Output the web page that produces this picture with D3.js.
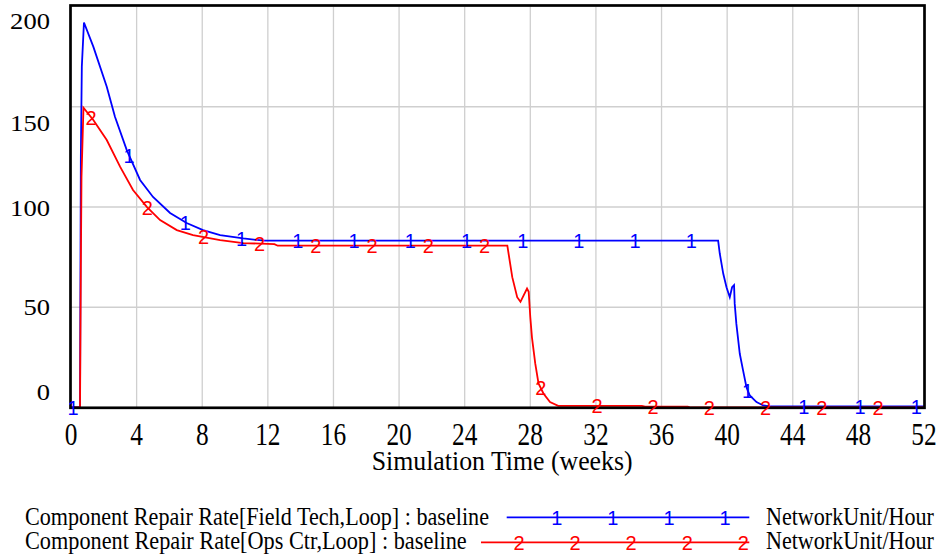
<!DOCTYPE html>
<html>
<head>
<meta charset="utf-8">
<script src="https://cdn.jsdelivr.net/npm/d3@7"></script>
<style>
  html, body { margin: 0; padding: 0; background: #fff; }
  svg { display: block; }
</style>
</head>
<body>
<svg id="chart" width="941" height="560"></svg>
<script>
// ---------------- DATA ----------------
const xTicks = [0, 4, 8, 12, 16, 20, 24, 28, 32, 36, 40, 44, 48, 52];
const yTicks = [0, 50, 100, 150, 200];

// Series 1: Component Repair Rate[Field Tech,Loop] : baseline
const fieldTechT = [0, 0.55, 0.6, 0.66, 0.79, 1.36, 2.18, 2.68, 3.40, 4.21, 5.0, 6.04, 7.05, 8.05, 9.09, 10.5, 11.8,
  39.45, 39.55, 39.76, 39.96, 40.16, 40.3, 40.42, 40.46, 40.56, 40.77, 40.97, 41.18, 41.38, 41.79, 42.2, 42.6, 52];
const fieldTechV = [0, 0, 125, 170, 192, 180, 160, 145, 128.4, 113.5, 105, 97, 92, 88.5, 86, 84.3, 83.2,
  83.2, 76.8, 66.8, 60, 55, 60, 61, 51.8, 41.8, 26.8, 18.5, 10, 6, 2.7, 1, 0.5, 0.5];

// Series 2: Component Repair Rate[Ops Ctr,Loop] : baseline
const opsCtrT = [0, 0.55, 0.6, 0.64, 0.76, 1.36, 2.18, 2.99, 3.78, 4.62, 5.43, 6.45, 7.44, 9.09, 10.5, 12.4, 12.6,
  26.6, 26.9, 27.2, 27.4, 27.8, 27.9, 28.0, 28.1, 28.3, 28.5, 28.8, 29.2, 29.7, 34.8, 35.0, 37.6, 37.8, 52];
const opsCtrV = [0, 0, 70, 115, 149.5, 143.4, 133.4, 120.1, 108.5, 100.1, 93.5, 88.5, 86, 83.5, 82, 81.5, 80.7,
  80.7, 65, 55, 52.7, 59.3, 57.7, 45, 35, 22, 12, 7, 2.7, 0.8, 0.8, 0.4, 0.4, 0, 0];

const legendLabels = ["Component Repair Rate[Field Tech,Loop] : baseline", "Component Repair Rate[Ops Ctr,Loop] : baseline"];
const unitLabel = "NetworkUnit/Hour";
const axisTitle = "Simulation Time (weeks)";

// ---------------- LAYOUT ----------------
const svg = d3.select("#chart");
const x = d3.scaleLinear().domain([0, 52]).range([71, 924]);
const y = d3.scaleLinear().domain([0, 200]).range([407.5, 6.5]);

const SERIF = '"Liberation Serif"';
const SANS = '"Liberation Sans"';

// place a text at (px,py) and squeeze/stretch it horizontally to a target width
function fitText(parent, str, px, py, size, width, anchor, family, fill) {
  const t = parent.append("text").attr("x", 0).attr("y", 0)
    .style("font-family", family || SERIF).style("font-size", size + "px")
    .attr("text-anchor", anchor || "start").attr("fill", fill || "#000").text(str);
  const nat = t.node().getComputedTextLength();
  const k = width && nat ? width / nat : 1;
  t.attr("transform", `translate(${px},${py}) scale(${k},1)`);
  return t;
}

// gridlines
const grid = svg.append("g");
grid.selectAll("line.v").data(xTicks.filter(d => d > 0 && d < 52)).enter().append("line")
  .attr("x1", d => x(d)).attr("x2", d => x(d)).attr("y1", y(200)).attr("y2", y(0))
  .attr("stroke", "#cfcfcf").attr("stroke-width", 1.3);
grid.selectAll("line.h").data(yTicks.filter(d => d > 0 && d < 200)).enter().append("line")
  .attr("x1", x(0)).attr("x2", x(52)).attr("y1", d => y(d)).attr("y2", d => y(d))
  .attr("stroke", "#cfcfcf").attr("stroke-width", 1.3);

// series
const series = [
  { t: fieldTechT, v: fieldTechV, color: "#0000ff", mark: "1", start: 0.12, n: 16 },
  { t: opsCtrT, v: opsCtrV, color: "#ff0000", mark: "2", start: 1.22, n: 15 }
];
const step = 3.427;
const line = d3.line().x(d => x(d[0])).y(d => y(d[1]));

function interp(ts, vs, t) {
  for (let i = 1; i < ts.length; i++) {
    if (t <= ts[i]) {
      const f = (t - ts[i - 1]) / (ts[i] - ts[i - 1] || 1);
      return vs[i - 1] + f * (vs[i] - vs[i - 1]);
    }
  }
  return vs[vs.length - 1];
}

series.forEach(s => {
  const pts = s.t.map((t, i) => [t, s.v[i]]);
  svg.append("path").attr("d", line(pts)).attr("fill", "none")
    .attr("stroke", s.color).attr("stroke-width", 1.8).attr("stroke-linejoin", "miter");
});

// frame
svg.append("rect").attr("x", 70.5).attr("y", 5.5).attr("width", 854).attr("height", 402.3)
  .attr("fill", "none").attr("stroke", "#000").attr("stroke-width", 2.7);

// markers on series
series.forEach(s => {
  const g = svg.append("g");
  d3.range(s.n).map(k => s.start + k * step).forEach(t => {
    fitText(g, s.mark, x(t), y(interp(s.t, s.v, t)) + 7.5, 20, null, "middle", SANS, s.color);
  });
});

// y labels
const yBase = { 0: 400, 50: 315, 100: 216, 150: 131, 200: 28.5 };
const gy = svg.append("g");
yTicks.forEach(d => fitText(gy, String(d), 50, yBase[d], 24, String(d).length * 13.3, "end"));

// x labels
const gx = svg.append("g");
xTicks.forEach(d => fitText(gx, String(d), x(d), 445, 32, String(d).length * 12.7, "middle"));

// axis title
fitText(svg, axisTitle, 371.7, 470, 27.5, 261, "start");

// legend
const legY = [517.3, 542.3];
const legBase = [525, 549];
const legTextLen = [464, 442];
const legLineStart = [506.7, 481];
const legMarks = [[556.7, 612.7, 669, 725], [519, 575, 631, 687.3, 743.3]];
series.forEach((s, i) => {
  const g = svg.append("g");
  fitText(g, legendLabels[i], 25, legBase[i], 25, legTextLen[i], "start");
  g.append("line").attr("x1", legLineStart[i]).attr("x2", 749.3).attr("y1", legY[i]).attr("y2", legY[i])
    .attr("stroke", s.color).attr("stroke-width", 1.8);
  legMarks[i].forEach(mx => fitText(g, s.mark, mx, legY[i] + 7.5, 20, null, "middle", SANS, s.color));
  fitText(g, unitLabel, 766, legBase[i], 25, 168, "start");
});
</script>
</body>
</html>
